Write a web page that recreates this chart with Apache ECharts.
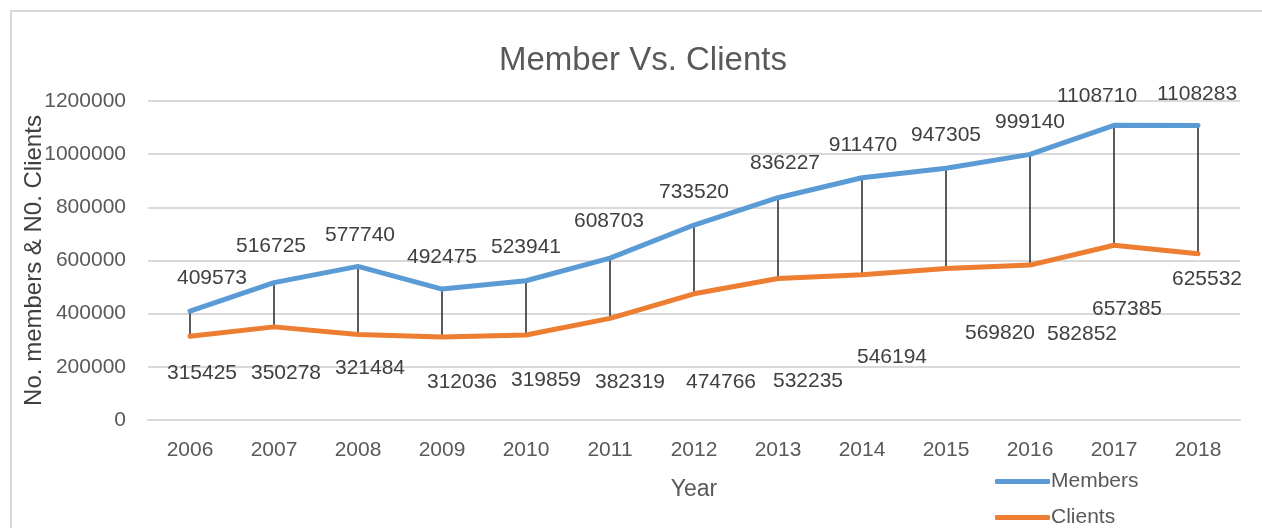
<!DOCTYPE html>
<html>
<head>
<meta charset="utf-8">
<script src="https://cdn.jsdelivr.net/npm/echarts@6/dist/echarts.min.js"></script>
<style>
html,body{margin:0;padding:0;background:#fff;}
#chart{width:1262px;height:528px;}
</style>
</head>
<body>
<div id="chart"></div>
<script>
// data
var years = ['2006','2007','2008','2009','2010','2011','2012','2013','2014','2015','2016','2017','2018'];
var members = [409573,516725,577740,492475,523941,608703,733520,836227,911470,947305,999140,1108710,1108283];
var clients = [315425,350278,321484,312036,319859,382319,474766,532235,546194,569820,582852,657385,625532];

// where the labels sit relative to each point (they were dragged by hand)
var memberLabelShift = [[22,-33],[-3,-36],[2,-31],[0,-32],[0,-34],[-1,-37],[0,-33],[7,-34],[1,-32],[0,-33],[0,-32],[-17,-29],[-1,-31]];
var clientLabelShift = [[12,37],[12,46],[12,34],[20,45],[20,45],[20,64],[27,88],[30,103],[30,82],[54,65],[52,69],[13,64],[9,25]];

var font = 'Liberation Sans';
var grey = '#595959';
var blue = '#5B9BD5', orange = '#ED7D31';

function withLabels(vals, shifts){
	var out = [];
	for (var i = 0; i < vals.length; i++) {
		out.push({value: vals[i], label: {offset: shifts[i]}});
	}
	return out;
}

var hiLo = [];
for (var i = 0; i < years.length; i++) {
	hiLo.push([i, members[i], clients[i]]);
}

function legendAt(name, top){
	return {
		left: 990,
		top: top,
		itemWidth: 55,
		itemHeight: 5,
		icon: 'roundRect',
		selectedMode: false,
		data: [name],
		textStyle: {fontFamily: font, fontSize: 21, color: grey, padding: [0,0,0,-4]}
	};
}

var myChart = echarts.init(document.getElementById('chart'));
var option = {
	animation: false,
	graphic: [{
		type: 'rect',
		shape: {x: 11, y: 11, width: 1400, height: 700},
		style: {fill: null, stroke: '#d9d9d9', lineWidth: 2},
		silent: true
	}],
	title: {
		text: 'Member Vs. Clients',
		left: 494,
		top: 39,
		textStyle: {fontFamily: font, fontSize: 33, fontWeight: 'normal', color: grey}
	},
	legend: [legendAt('Members', 466), legendAt('Clients', 502)],
	grid: {left: 148, right: 22, top: 101, bottom: 108},
	xAxis: {
		type: 'category',
		data: years,
		name: 'Year',
		nameLocation: 'middle',
		nameGap: 58,
		nameTextStyle: {fontFamily: font, fontSize: 23, color: grey},
		axisLine: {lineStyle: {color: '#d9d9d9', width: 2}},
		axisTick: {show: false},
		axisLabel: {fontFamily: font, fontSize: 21, color: grey, margin: 20}
	},
	yAxis: {
		type: 'value',
		min: 0,
		max: 1200000,
		interval: 200000,
		name: 'No. members & N0. Clients',
		nameLocation: 'middle',
		nameGap: 102,
		nameMoveOverlap: false,
		nameTextStyle: {fontFamily: font, fontSize: 24, color: '#404040'},
		axisLine: {show: false},
		axisTick: {show: false},
		splitLine: {lineStyle: {color: '#d9d9d9', width: 2}},
		axisLabel: {fontFamily: font, fontSize: 21, color: grey, margin: 22, formatter: function(v){ return String(v); }}
	},
	series: [{
		name: 'HiLo',
		type: 'custom',
		z: 1,
		silent: true,
		data: hiLo,
		renderItem: function(params, api){
			var a = api.coord([api.value(0), api.value(1)]);
			var b = api.coord([api.value(0), api.value(2)]);
			return {
				type: 'line',
				shape: {x1: a[0], y1: a[1], x2: b[0], y2: b[1]},
				style: {stroke: '#262626', lineWidth: 1.5}
			};
		}
	},{
		name: 'Members',
		type: 'line',
		z: 3,
		color: blue,
		data: withLabels(members, memberLabelShift),
		symbol: 'circle',
		symbolSize: 0.1,
		showSymbol: true,
		lineStyle: {width: 5, cap: 'round', join: 'round', color: blue},
		itemStyle: {color: blue},
		label: {show: true, position: 'inside', fontFamily: font, fontSize: 21, color: '#404040'}
	},{
		name: 'Clients',
		type: 'line',
		z: 3,
		color: orange,
		data: withLabels(clients, clientLabelShift),
		symbol: 'circle',
		symbolSize: 0.1,
		showSymbol: true,
		lineStyle: {width: 5, cap: 'round', join: 'round', color: orange},
		itemStyle: {color: orange},
		label: {show: true, position: 'inside', fontFamily: font, fontSize: 21, color: '#404040'}
	}]
};
myChart.setOption(option);
</script>
</body>
</html>
